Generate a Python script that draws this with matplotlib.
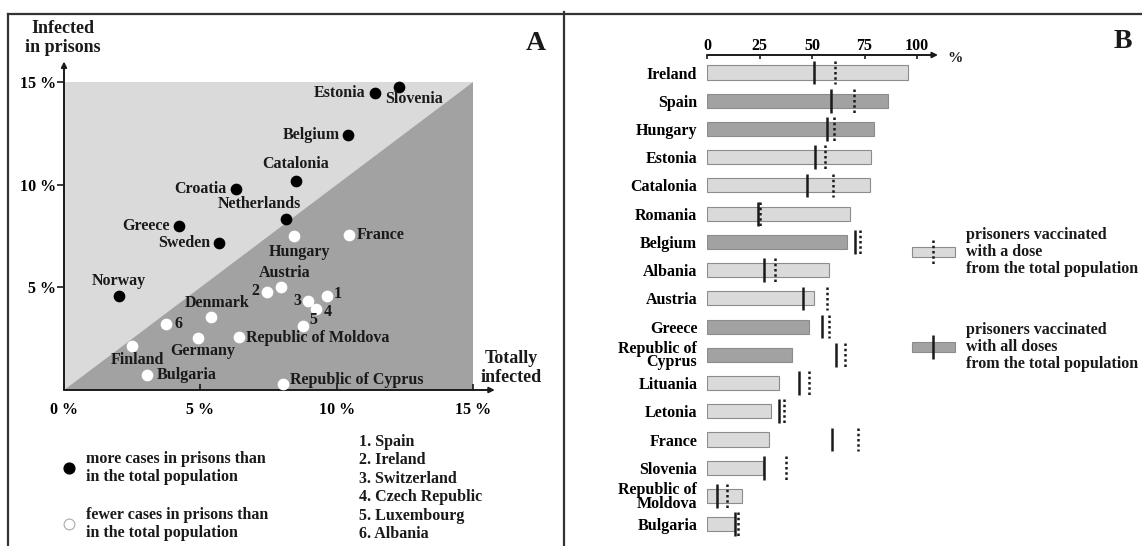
import matplotlib.pyplot as plt

plt.rcParams['font.family'] = ['Liberation Serif', 'DejaVu Serif']
plt.rcParams['font.weight'] = 'bold'

# ---- panel A data: % infected in total population vs in prisons
more_names = ['Estonia', 'Slovenia', 'Belgium', 'Catalonia', 'Croatia',
              'Netherlands', 'Greece', 'Sweden', 'Norway']
more_total = [11.4, 12.3, 10.4, 8.5, 6.3, 8.15, 4.2, 5.7, 2.0]
more_prison = [14.45, 14.75, 12.4, 10.2, 9.8, 8.35, 8.0, 7.15, 4.6]

fewer_names = ['Hungary', 'France', 'Austria', '2', '3', '1', '4', 'Denmark', '6',
               '5', 'Germany', 'Republic of Moldova', 'Finland', 'Bulgaria',
               'Republic of Cyprus']
fewer_total = [8.45, 10.45, 7.95, 7.45, 8.95, 9.65, 9.25, 5.4, 3.75, 8.75, 4.9,
               6.4, 2.5, 3.05, 8.05]
fewer_prison = [7.5, 7.55, 5.0, 4.75, 4.35, 4.6, 3.95, 3.55, 3.2, 3.1, 2.55,
                2.6, 2.15, 0.75, 0.3]

key_list = ['1. Spain', '2. Ireland', '3. Switzerland', '4. Czech Republic',
            '5. Luxembourg', '6. Albania']

# ---- panel B data: % vaccinated
countries = ['Ireland', 'Spain', 'Hungary', 'Estonia', 'Catalonia', 'Romania',
             'Belgium', 'Albania', 'Austria', 'Greece', 'Republic of\nCyprus',
             'Lituania', 'Letonia', 'France', 'Slovenia', 'Republic of\nMoldova',
             'Bulgaria']
prison_vacc = [95.5, 86, 79.4, 78, 77.5, 68.3, 66.7, 58, 50.8, 48.6, 40.5,
               34.1, 30.3, 29.7, 26.7, 16.8, 13.2]
total_all_doses = [50.8, 59, 57.3, 51.6, 47.5, 24.3, 70.6, 27.3, 45.6, 54.9,
                   61.3, 44, 34.3, 59.4, 27, 4.8, 13.2]
total_one_dose = [61, 70, 60.6, 56, 60, 25.4, 72.7, 32.4, 57.1, 58, 65.9,
                  48.7, 36.8, 71.7, 37.8, 9.7, 14.8]
all_doses = [False, True, True, False, False, False, True, False, False, True,
             True, False, False, False, False, False, False]

LIGHT = '#dadada'
DARK = '#a2a2a2'
EDGE = '#8c8c8c'
INK = '#1a1a1a'

W, H = 1142, 546
fig = plt.figure(figsize=(W / 100, H / 100), dpi=100)


def px_axes(x0, y0, x1, y1):
    # box in pixels, origin top-left
    return fig.add_axes([x0 / W, 1 - y1 / H, (x1 - x0) / W, (y1 - y0) / H])


# overlay for frame lines and free text
ov = px_axes(0, 0, W, H)
ov.set_xlim(0, W)
ov.set_ylim(H, 0)
ov.axis('off')
ov.plot([8, W], [14, 14], color='#333333', lw=1.6)
ov.plot([8, 8], [14, H], color='#333333', lw=1.6)
ov.plot([564, 564], [12, H], color='#333333', lw=1.6)

# ---------------- panel A ----------------
ax = px_axes(64, 82, 473, 390)
ax.set_xlim(0, 15)
ax.set_ylim(0, 15)
for s in ax.spines.values():
    s.set_visible(False)
ax.fill([0, 0, 15], [0, 15, 15], color=LIGHT, lw=0, zorder=0)
ax.fill([0, 15, 15], [0, 15, 0], color=DARK, lw=0, zorder=0)
ax.annotate('', xy=(15.8, 0), xytext=(0, 0), annotation_clip=False,
            arrowprops=dict(arrowstyle='-|>', color=INK, lw=1.4,
                            mutation_scale=8, shrinkA=0, shrinkB=0))
ax.annotate('', xy=(0, 16), xytext=(0, 0), annotation_clip=False,
            arrowprops=dict(arrowstyle='-|>', color=INK, lw=1.4,
                            mutation_scale=8, shrinkA=0, shrinkB=0))
ax.set_xticks([0, 5, 10, 15], ['0 %', '5 %', '10 %', '15 %'])
ax.set_yticks([5, 10, 15], ['5 %', '10 %', '15 %'])
ax.tick_params(axis='x', direction='in', length=4, width=1.2, pad=9,
               labelsize=11.5, color=INK)
ax.tick_params(axis='y', direction='out', length=5, width=1.2, pad=1,
               labelsize=11.5, color=INK)

ax.scatter(more_total, more_prison, s=55, color='black', zorder=3, clip_on=False)
ax.scatter(fewer_total, fewer_prison, s=55, color='white', zorder=3, clip_on=False)

label_pos = {
    'Estonia': (-9, 0, 'right'), 'Slovenia': (-14, -12, 'left'),
    'Belgium': (-8, 0, 'right'), 'Catalonia': (0, 17, 'center'),
    'Croatia': (-9, 0, 'right'), 'Netherlands': (-27, 15, 'center'),
    'Greece': (-9, 0, 'right'), 'Sweden': (-9, 0, 'right'),
    'Norway': (0, 15, 'center'), 'Hungary': (5, -16, 'center'),
    'France': (8, 0, 'left'), 'Austria': (4, 14, 'center'),
    '2': (-8, 1, 'right'), '3': (-7, 0, 'right'), '1': (7, 2, 'left'),
    '4': (8, -3, 'left'), 'Denmark': (6, 14, 'center'), '6': (8, 0, 'left'),
    '5': (7, 6, 'left'), 'Germany': (5, -13, 'center'),
    'Republic of Moldova': (7, -1, 'left'), 'Finland': (5, -14, 'center'),
    'Bulgaria': (10, 0, 'left'), 'Republic of Cyprus': (7, 4, 'left'),
}
for names, xs, ys in [(more_names, more_total, more_prison),
                      (fewer_names, fewer_total, fewer_prison)]:
    for n, x, y in zip(names, xs, ys):
        dx, dy, ha = label_pos[n]
        ax.annotate(n, (x, y), xytext=(dx, dy), textcoords='offset pixels',
                    ha=ha, va='center', fontsize=11.5, color=INK,
                    annotation_clip=False)

ov.text(63, 38, 'Infected\nin prisons', ha='center', va='center',
        fontsize=13, linespacing=1.15, color=INK)
ov.text(511, 368, 'Totally\ninfected', ha='center', va='center',
        fontsize=13, linespacing=1.1, color=INK)
ov.text(536, 44, 'A', ha='center', va='center', fontsize=20, color=INK)

ov.scatter([69], [468], s=60, color='black')
ov.scatter([69], [524], s=60, color='white', edgecolors='#aaaaaa', linewidths=0.8)
ov.text(86, 468, 'more cases in prisons than\nin the total population',
        ha='left', va='center', fontsize=11.5, linespacing=1.15, color=INK)
ov.text(86, 524, 'fewer cases in prisons than\nin the total population',
        ha='left', va='center', fontsize=11.5, linespacing=1.15, color=INK)
for i, k in enumerate(key_list):
    ov.text(359, 442 + i * 18.4, k, ha='left', va='center', fontsize=11.5,
            color=INK)

# ---------------- panel B ----------------
bx = px_axes(707, 55, 707 + 2.1 * 110, 544)
bx.set_xlim(0, 110)
bx.set_ylim(16.7, -0.62)
for s in bx.spines.values():
    s.set_visible(False)
ypos = list(range(len(countries)))
bx.barh(ypos, prison_vacc, height=0.5,
        color=[DARK if d else LIGHT for d in all_doses],
        edgecolor=EDGE, linewidth=0.8, zorder=2)
bx.vlines(total_all_doses, [y - 0.42 for y in ypos], [y + 0.42 for y in ypos],
          color=INK, lw=1.8, zorder=3)
bx.vlines(total_one_dose, [y - 0.42 for y in ypos], [y + 0.42 for y in ypos],
          color=INK, lw=1.8, linestyles=(0, (1, 1.1)), zorder=3)
bx.annotate('', xy=(110, -0.62), xytext=(0, -0.62), annotation_clip=False,
            arrowprops=dict(arrowstyle='-|>', color=INK, lw=1.4,
                            mutation_scale=8, shrinkA=0, shrinkB=0))
bx.xaxis.tick_top()
bx.set_xticks([0, 25, 50, 75, 100])
bx.tick_params(axis='x', direction='in', length=3, width=1.2, pad=1,
               labelsize=11.5, color=INK)
bx.set_yticks(ypos, countries)
bx.tick_params(axis='y', length=0, pad=7, labelsize=11.5)
for t in bx.get_yticklabels():
    t.set_linespacing(0.8)
ov.text(955, 58, '%', ha='center', va='center', fontsize=11, color=INK)
ov.text(1123, 42, 'B', ha='center', va='center', fontsize=20, color=INK)

# legend of panel B
lg = px_axes(905, 225, 965, 375)
lg.set_xlim(0, 60)
lg.set_ylim(150, 0)
lg.axis('off')
lg.barh([27, 122], [43, 43], left=7, height=10, color=[LIGHT, DARK],
        edgecolor=EDGE, linewidth=0.8)
lg.vlines([28], [15], [39], color=INK, lw=1.8, linestyles=(0, (1, 1.1)))
lg.vlines([28], [110], [134], color=INK, lw=1.8)
ov.text(966, 252, 'prisoners vaccinated\nwith a dose\nfrom the total population',
        ha='left', va='center', fontsize=11.5, linespacing=1.05, color=INK)
ov.text(966, 347, 'prisoners vaccinated\nwith all doses\nfrom the total population',
        ha='left', va='center', fontsize=11.5, linespacing=1.05, color=INK)

fig.savefig('out.png', dpi=100)
